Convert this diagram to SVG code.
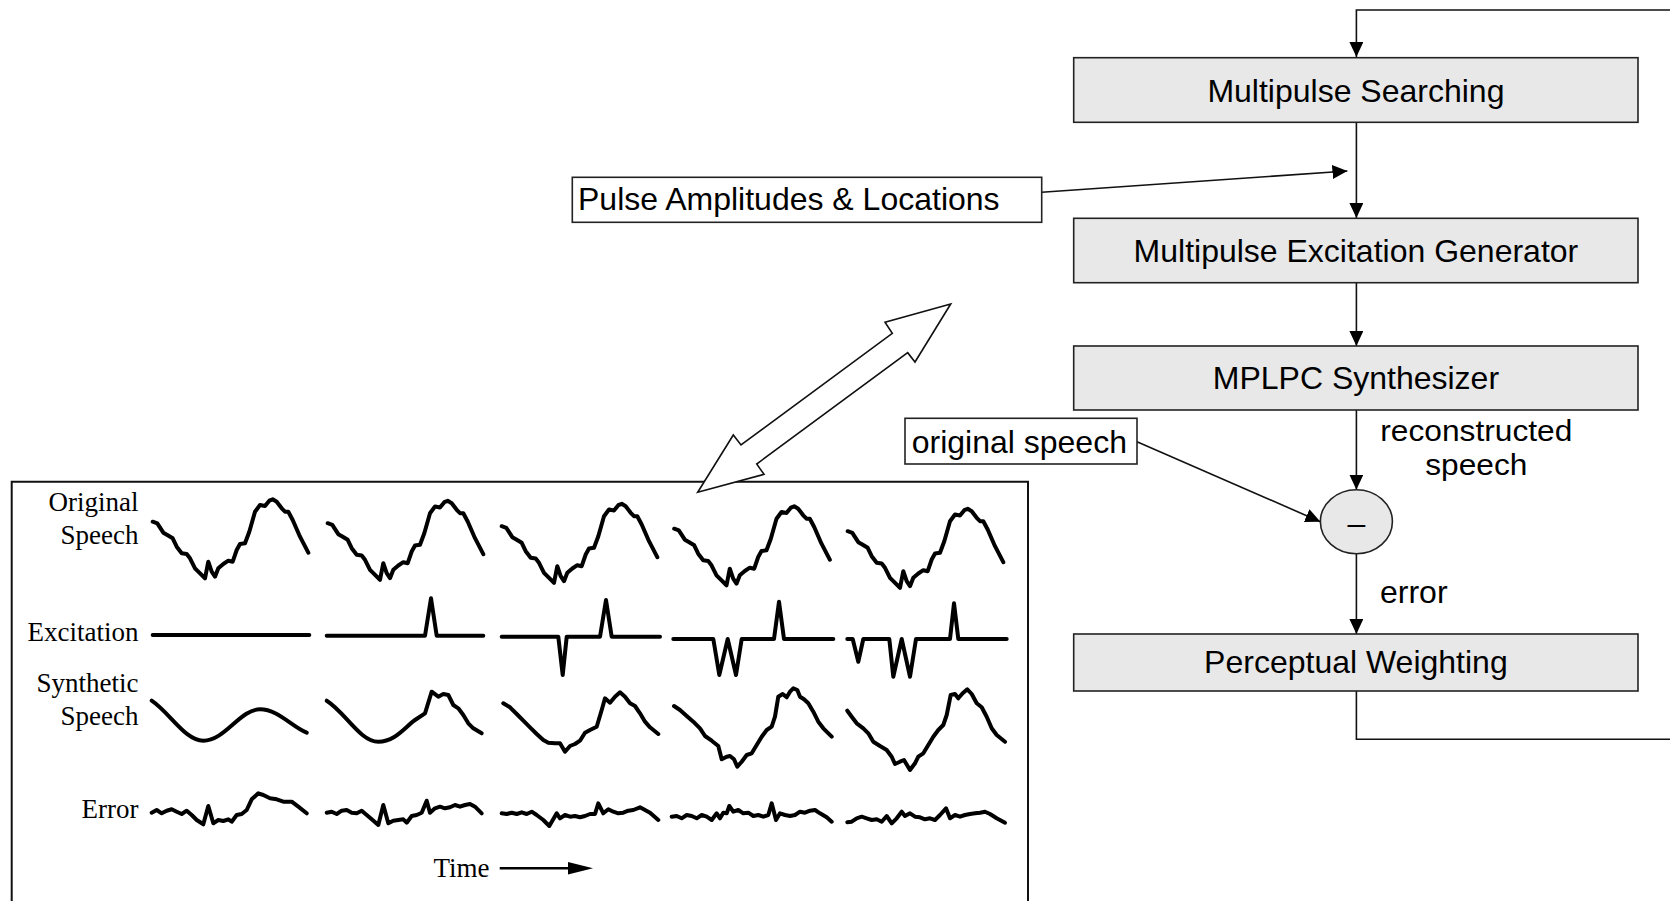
<svg xmlns="http://www.w3.org/2000/svg" width="1670" height="901" viewBox="0 0 1670 901">
<style>
.box{fill:#e8e8e8;stroke:#222;stroke-width:1.6}
.lbl{fill:#fff;stroke:#222;stroke-width:1.6}
.t{font-family:"Liberation Sans",Arial,sans-serif;font-size:32px;fill:#000}
.c{text-anchor:middle}
.ln{fill:none;stroke:#111;stroke-width:1.6}
.w{fill:none;stroke:#000;stroke-width:4;stroke-linejoin:round;stroke-linecap:round}
.ser{font-family:"Liberation Serif","Times New Roman",serif;font-size:27px;fill:#000}
.r{text-anchor:end}
</style>
<defs>
<marker id="ah" markerUnits="userSpaceOnUse" markerWidth="15" markerHeight="14" refX="15" refY="7" orient="auto">
<path d="M0,0 L15,7 L0,14 z" fill="#000"/>
</marker>
<path id="os" d="M12.7,31.7 L17.3,33.3 L23.3,42.7 L27.3,45 L32.7,48.3 L36.7,56.7 L41.7,63.3 L46.7,64 L50,68.3 L55,78.3 L59.3,82.7 L65,88.3 L68.3,71.7 L71.7,81.7 L75,86.7 L78.3,78.3 L83.3,74 L88.3,70.7 L92.7,71.7 L96.7,60 L100,54 L105,53.3 L109.3,41.7 L115,21.7 L120,15 L125,16 L129.3,10.7 L132.7,9.3 L136.7,11.7 L141.7,18.3 L145,21.7 L148.3,21.7 L152.7,30 L160,46.7 L168.3,62.7"/>
</defs>

<g id="connectors">
<path class="ln" d="M1356.4,691 V739.3 H1680 V10 H1356.4 V57" marker-end="url(#ah)"/>
<path class="ln" d="M1356.4,122.3 V218" marker-end="url(#ah)"/>
<path class="ln" d="M1041.7,192.3 L1347.4,171" marker-end="url(#ah)"/>
<path class="ln" d="M1356.4,282.7 V346" marker-end="url(#ah)"/>
<path class="ln" d="M1356.4,410 V489.7" marker-end="url(#ah)"/>
<path class="ln" d="M1137,441.7 L1320.4,521.7" marker-end="url(#ah)"/>
<path class="ln" d="M1356.4,553.7 V634" marker-end="url(#ah)"/>
</g>

<g id="multipulse-searching">
<rect class="box" x="1073.7" y="57.7" width="564.3" height="64.6"/>
<text class="t c" x="1355.9" y="101.7">Multipulse Searching</text>
</g>
<g id="excitation-generator">
<rect class="box" x="1073.7" y="218.3" width="564.3" height="64.4"/>
<text class="t c" x="1355.9" y="261.7">Multipulse Excitation Generator</text>
</g>
<g id="mplpc-synthesizer">
<rect class="box" x="1073.7" y="346" width="564.3" height="64"/>
<text class="t c" x="1355.9" y="389.3">MPLPC Synthesizer</text>
</g>
<g id="subtractor">
<ellipse class="box" cx="1356.4" cy="521.7" rx="36" ry="32"/>
<text class="t c" x="1356.4" y="534">–</text>
</g>
<g id="perceptual-weighting">
<rect class="box" x="1073.7" y="634" width="564.3" height="57"/>
<text class="t c" x="1355.9" y="673.3">Perceptual Weighting</text>
</g>
<g id="pulse-label">
<rect class="lbl" x="572.3" y="177.3" width="469.4" height="45"/>
<text class="t" x="578" y="210">Pulse Amplitudes &amp; Locations</text>
</g>
<g id="original-speech-label">
<rect class="lbl" x="905" y="418.3" width="232" height="45.7"/>
<text class="t" x="911.7" y="452.7">original speech</text>
</g>
<g id="edge-labels">
<text class="t c" x="1476.3" y="441" style="font-size:30px" textLength="192" lengthAdjust="spacingAndGlyphs">reconstructed</text>
<text class="t c" x="1476.3" y="475" style="font-size:30px" textLength="102" lengthAdjust="spacingAndGlyphs">speech</text>
<text class="t" x="1380" y="603.3">error</text>
</g>

<g id="waveform-panel">
<path d="M11.7,910 V481.7 H1028 V910" fill="none" stroke="#111" stroke-width="2"/>
<text class="ser r" x="138.5" y="510.7">Original</text>
<text class="ser r" x="138.5" y="544">Speech</text>
<text class="ser r" x="138.5" y="640.7">Excitation</text>
<text class="ser r" x="138.5" y="691.7">Synthetic</text>
<text class="ser r" x="138.5" y="725">Speech</text>
<text class="ser r" x="138.5" y="818.3">Error</text>
<text class="ser" x="433.5" y="877">Time</text>
<line x1="499.7" y1="868.3" x2="572" y2="868.3" stroke="#000" stroke-width="2.5"/>
<polygon points="568,862 593,868.3 568,874.6" fill="#000"/>

<use href="#os" class="w" transform="translate(140,490)"/>
<use href="#os" class="w" transform="translate(315,491.5)"/>
<use href="#os" class="w" transform="translate(489,494.5)"/>
<use href="#os" class="w" transform="translate(661.5,497)"/>
<use href="#os" class="w" transform="translate(835,499.5)"/>

<path class="w" d="M152.7,635 H309.3"/>
<path class="w" d="M326.7,635.7 H425 L431,598.3 L436.7,635.7 H483.3"/>
<path class="w" d="M501.7,636.7 H558.3 L562.7,675 L566.7,636.7 H600 L606,600 L611.7,636.7 H660"/>
<path class="w" d="M673.3,639 H713.3 L719.3,675 L727.7,639 L736,675 L741.7,639 H774 L779,601.7 L784,639 H833.3"/>
<path class="w" d="M847.3,639 H852.7 L858.3,661.7 L863.3,639 H889.3 L893.3,676.7 L901.7,639 L910,676.7 L916,639 H950 L954,603.3 L958.3,639 H1006.7"/>

<path class="w" d="M151.7,700.7 C170,713 185,740.7 203.3,740.7 C225,740.7 240,709.3 260,709.3 C278,709.3 292,727 306.7,732.7"/>
<path class="w" d="M326.7,700.7 C345,712 360,741.7 378.3,741.7 C395,741.7 405,727 415,720 L425,713.3 L431.7,691.7 L438.3,696.7 L443.3,694 L448.3,695 L453.3,705 L458.3,708.3 L463.3,715 L468.3,723.3 L473.3,728.3 L481.7,733.3"/>
<path class="w" d="M503.3,703.3 L510,707.3 L516.7,714 L523.3,720.7 L530,727.3 L536.7,734 L543.3,740 L548.3,742.7 L555,743.3 L560,743.3 L565,751.7 L570,746 L575,744 L580,740.7 L585,732.7 L590,730 L596.7,726.7 L601.7,710 L605,698.3 L610,702.7 L615,696.7 L620,692.3 L625,696.7 L630,703.3 L635,706 L640,713.3 L645,721.7 L650,727.3 L658.3,734"/>
<path class="w" d="M674,706 L680,710 L686.7,716 L693.3,721.7 L700,728.3 L705,736 L711.7,740.7 L718.3,746 L721.7,759.3 L726.7,756.7 L730,756 L734,759.3 L737.3,766.7 L741.7,761.7 L746.7,755 L751.7,753.3 L756.7,745 L761.7,736.7 L766.7,730 L771.7,726.7 L775,716.7 L778.3,696.7 L782.7,694 L786.7,697.3 L790,691.7 L793.3,688.3 L797.3,690 L800,696.7 L804,699.3 L808.3,703.3 L813.3,711.7 L818.3,721.7 L823.3,728.3 L831.7,736.7"/>
<path class="w" d="M847.3,710.7 L851.7,716.7 L856.7,723.3 L863.3,728.3 L868.3,733.3 L873.3,741.7 L880,746 L886.7,750 L891.7,756.7 L895,764 L900,761.7 L904,760 L910,770 L915,763.3 L918.3,756.7 L923.3,753.3 L928.3,745 L933.3,736.7 L938.3,730 L943.3,725 L946.7,715 L950.7,695 L955,694 L958.3,698.3 L962.7,693.3 L967.3,689.3 L971.7,694 L976.7,703.3 L981.7,707.3 L986.7,716.7 L991.7,728.3 L996.7,735 L1005,741.7"/>

<path class="w" d="M151.7,812.7 L156.7,810 L161.7,813.3 L166.7,810.7 L171.7,809.3 L176.7,811.7 L181.7,814 L186.7,810.7 L191.7,815 L196.7,820 L203.3,824.3 L208.3,806 L213.3,823.3 L218.3,820 L223.3,821 L228.3,819.3 L231.7,821.7 L236.7,815 L241.7,814 L246.7,810 L251.7,799.3 L258.3,793.3 L263.3,795 L270,798.3 L276.7,799.3 L283.3,801.7 L291.7,801.7 L298.3,806.7 L306.7,813.3"/>
<path class="w" d="M326.7,812.7 L331.7,811.7 L336.7,814 L341.7,810.7 L346.7,810 L351.7,812.7 L356.7,813.3 L361.7,810.7 L366.7,815 L371.7,819.3 L378.3,825 L383.3,805 L388.3,823.3 L393.3,820.7 L398.3,820 L403.3,819.3 L406.7,822.7 L411.7,816 L416.7,815 L421.7,812.7 L426.7,800.7 L430,812.7 L435,808.3 L440,806.7 L445,808.3 L450,807.3 L455,805 L460,806.7 L465,805 L470,804 L475,806.7 L481.7,813.3"/>
<path class="w" d="M501.7,813.3 L506.7,814 L511.7,812.7 L516.7,814 L521.7,812.3 L526.7,814 L531.7,811.7 L536.7,815 L543.3,820 L549.3,826 L556.7,813.3 L560,818.3 L565,815 L570,816.7 L575,816 L580,817.3 L585,816 L590,814 L595,814 L598.3,803.3 L603.3,813.3 L608.3,809.3 L613.3,811.7 L618.3,813.3 L623.3,812.7 L628.3,810.7 L633.3,810 L640,807.3 L645,810 L650,812.7 L658.3,820"/>
<path class="w" d="M671.7,816.7 L676.7,816 L681.7,818.3 L686.7,815 L691.7,816 L696.7,818.3 L701.7,815 L706.7,816.7 L711.7,820 L716.7,813.3 L720,818.3 L723.3,812.7 L726.7,813.3 L729.3,806 L733.3,811.7 L738.3,810 L743.3,813.3 L748.3,812.7 L753.3,816 L758.3,815 L763.3,816.7 L768.3,815 L771.7,803.3 L776,820 L780,813.3 L785,815 L790,816 L795,815 L800,811.7 L805,812.7 L810,810.7 L815,810 L820,813.3 L826.7,817.3 L831.7,821.7"/>
<path class="w" d="M847.3,822.3 L851.7,821.7 L856.7,818.3 L861.7,816.7 L866.7,818.3 L871.7,820 L876.7,819.3 L881.7,821.7 L886.7,816 L891.7,823.3 L896.7,818.3 L901.7,811.7 L905,816 L910,813.3 L915,816.7 L920,817.3 L925,819.3 L930,818.3 L935,820 L940,815 L946,808.3 L950,818.3 L955,815 L960,816.7 L965,815 L970,814 L975,813.3 L980,812.7 L985,811.7 L990,814 L996.7,818.3 L1005,822.7"/>
</g>

<g id="double-arrow">
<polygon points="950.7,304 885,322.3 892.3,333.3 741,445 733.3,435 697.7,492.3 764,474.3 756.7,464 907.7,352.7 915,362" fill="#fff" stroke="#111" stroke-width="1.6" stroke-linejoin="miter"/>
</g>
</svg>
